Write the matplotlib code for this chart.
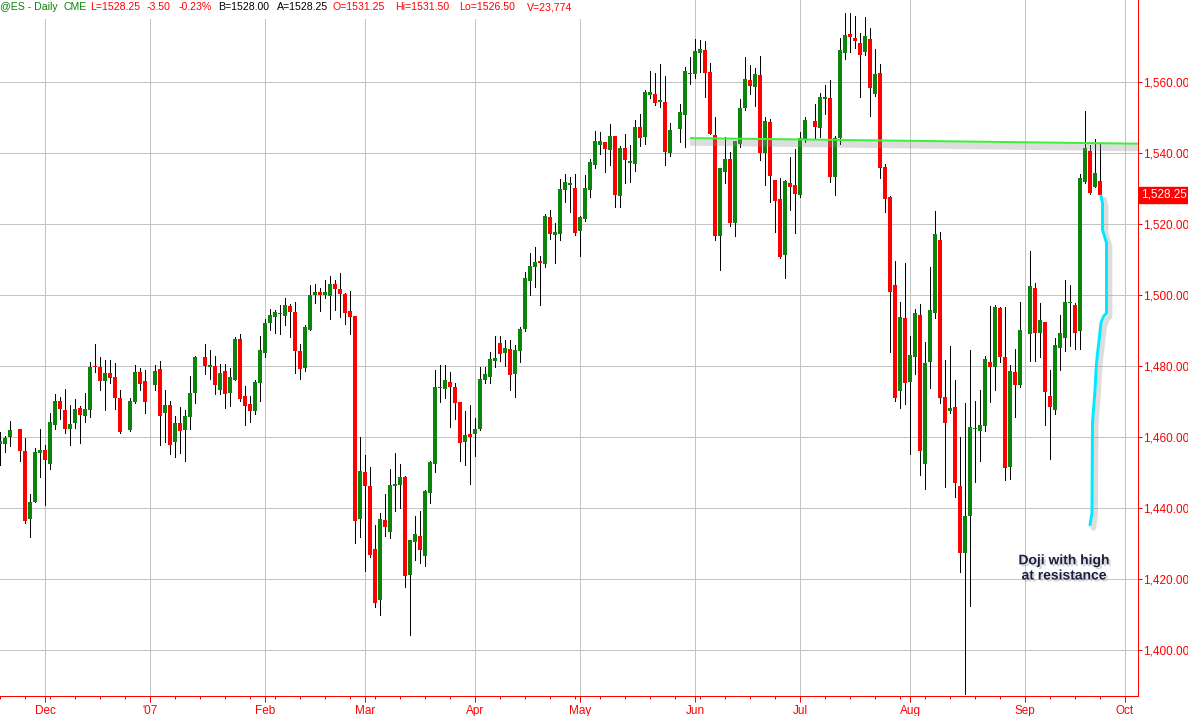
import numpy as np
import pandas as pd
import matplotlib
matplotlib.use("Agg")
import matplotlib.pyplot as plt
import matplotlib.patheffects as pe

plt.rcParams['font.family'] = ['Liberation Sans', 'DejaVu Sans']

####################################
# Data (ES daily)
####################################

first_day = "2006-11-20"
last_day = "2007-09-24"
# weekdays with no bar on the chart (gaps)
no_bar = ["2006-11-23", "2006-12-25", "2007-01-01", "2007-01-15",
          "2007-05-28", "2007-07-04", "2007-09-03"]

opens = [
    # Nov
    1458.1, 1458.1, 1459.9, 1462.1, 1456.1, 1437.0, 1441.6, 1455.4,
    # Dec
    1456.3, 1452.4, 1463.4, 1470.1, 1467.6, 1462.1, 1463.8, 1468.1, 1466.0, 1467.6,
    1480.0, 1479.8, 1475.8, 1478.1, 1476.9, 1471.1, 1462.0, 1469.9, 1478.3, 1475.8,
    # Jan
    1474.5, 1479.2, 1466.6, 1468.9, 1458.5, 1463.9, 1462.0, 1465.7, 1472.5, 1482.5,
    1479.8, 1480.0, 1473.2, 1478.6, 1472.5, 1476.1, 1487.7, 1471.6, 1469.3, 1467.4, 1475.3,
    # Feb
    1483.6, 1492.0, 1493.7, 1494.5, 1494.2, 1496.9, 1495.3, 1484.2, 1479.3, 1490.1,
    1499.9, 1500.8, 1499.9, 1499.8, 1503.1, 1501.6, 1500.4, 1495.5, 1494.1, 1437.0,
    # Mar
    1450.2, 1446.2, 1428.4, 1414.1, 1436.6, 1433.3, 1446.3, 1446.5, 1448.8, 1421.1, 1430.5,
    1432.1, 1426.5, 1444.3, 1452.4, 1473.7, 1473.4, 1475.5, 1474.2, 1469.7, 1458.7, 1460.8,
    # Apr
    1460.7, 1462.2, 1475.9, 1477.0, 1481.5, 1486.4, 1483.6, 1484.9, 1477.6, 1484.3, 1490.3,
    1503.8, 1507.8, 1509.6, 1508.7, 1522.1, 1517.0, 1517.2, 1529.6, 1531.1, 1530.2,
    # May
    1518.1, 1521.4, 1529.6, 1536.6, 1542.3, 1543.2, 1540.7, 1544.8, 1527.9, 1541.3, 1537.3,
    1536.9, 1547.2, 1544.6, 1556.4, 1556.6, 1554.4, 1554.5, 1540.1, 1546.7, 1550.7, 1562.6,
    # Jun
    1562.3, 1568.3, 1569.0, 1562.7, 1545.1, 1516.6, 1534.7, 1538.2, 1520.4, 1542.5, 1552.6,
    1560.5, 1558.5, 1562.0, 1540.1, 1548.8, 1532.4, 1527.0, 1511.3, 1531.6, 1531.0,
    # Jul
    1528.2, 1543.8, 1549.1, 1547.0, 1555.3, 1555.6, 1533.3, 1544.1, 1568.3, 1573.5, 1572.3,
    1570.9, 1568.5, 1572.0, 1556.6, 1562.6, 1536.0, 1527.5, 1502.8, 1473.0, 1493.4,
    # Aug
    1475.6, 1482.4, 1494.4, 1452.4, 1481.2, 1494.8, 1515.5, 1471.2, 1467.4, 1468.4, 1446.2, 1427.4,
    1437.6, 1462.1, 1461.8, 1463.1, 1481.0, 1479.6, 1496.2, 1482.6, 1451.4, 1478.4, 1474.5,
    # Sep
    1488.9, 1501.9, 1489.2, 1492.5, 1471.5, 1467.6, 1485.0, 1488.0, 1497.7, 1497.2,
    1489.9, 1531.9, 1540.6, 1530.3, 1532.0,
]

highs = [
    1461.5, 1460.2, 1464.6, 1462.3, 1459.6, 1443.9, 1456.9, 1462.3,
    1457.7, 1466.8, 1472.0, 1471.3, 1473.5, 1469.0, 1470.7, 1468.7, 1472.3, 1481.2,
    1486.3, 1482.6, 1481.8, 1481.8, 1480.7, 1473.2, 1470.9, 1480.3, 1479.4, 1478.9,
    1480.3, 1481.4, 1473.1, 1470.0, 1465.9, 1468.5, 1467.6, 1477.2, 1482.8, 1486.1,
    1484.5, 1482.8, 1480.5, 1480.5, 1479.4, 1488.1, 1488.9, 1474.4, 1471.4, 1475.9, 1488.3,
    1493.1, 1496.0, 1495.8, 1497.2, 1499.1, 1497.4, 1498.1, 1486.2, 1491.4, 1502.8,
    1503.1, 1501.9, 1504.2, 1505.4, 1504.2, 1506.1, 1500.5, 1501.0, 1494.1, 1460.1,
    1454.9, 1451.5, 1435.2, 1438.7, 1443.9, 1450.9, 1455.4, 1452.4, 1449.0, 1431.0, 1437.8,
    1439.0, 1445.1, 1453.1, 1478.9, 1480.3, 1480.3, 1478.4, 1475.1, 1469.9, 1467.4, 1469.0,
    1465.3, 1479.8, 1479.8, 1483.8, 1488.3, 1488.3, 1487.3, 1487.3, 1485.9, 1491.1, 1506.6,
    1511.9, 1513.4, 1511.0, 1522.8, 1523.9, 1520.4, 1532.6, 1534.1, 1533.3, 1534.1,
    1522.3, 1533.8, 1538.4, 1546.3, 1546.0, 1543.2, 1548.2, 1544.8, 1542.0, 1545.4, 1542.3,
    1549.3, 1551.0, 1557.7, 1563.2, 1562.6, 1565.1, 1561.7, 1548.4, 1553.8, 1564.3, 1567.0,
    1572.0, 1571.8, 1571.6, 1565.3, 1550.2, 1535.9, 1544.4, 1540.4, 1543.5, 1555.1, 1567.0,
    1564.8, 1563.9, 1567.3, 1550.2, 1549.5, 1532.4, 1532.9, 1532.4, 1539.0, 1541.0,
    1546.0, 1550.2, 1553.8, 1557.0, 1559.2, 1560.6, 1544.8, 1572.3, 1579.3, 1579.3, 1578.6,
    1573.9, 1578.2, 1575.1, 1569.2, 1565.0, 1537.0, 1528.0, 1509.7, 1498.1, 1508.9,
    1488.3, 1496.0, 1497.5, 1486.8, 1508.0, 1523.7, 1517.8, 1481.7, 1485.6, 1476.1, 1460.1, 1469.5,
    1484.5, 1470.2, 1473.2, 1482.8, 1496.9, 1497.2, 1496.5, 1496.5, 1480.3, 1484.7, 1498.1,
    1512.5, 1503.5, 1497.6, 1492.5, 1478.9, 1487.8, 1494.4, 1504.2, 1502.8, 1497.6,
    1534.1, 1551.9, 1542.3, 1543.9, 1542.7,
]

lows = [
    1452.1, 1455.8, 1457.5, 1453.3, 1435.8, 1431.7, 1441.6, 1448.8,
    1440.7, 1451.0, 1462.3, 1465.1, 1461.0, 1457.6, 1462.6, 1458.2, 1464.3, 1465.7,
    1478.3, 1473.2, 1467.6, 1475.3, 1468.0, 1461.0, 1461.7, 1469.5, 1473.2, 1466.7,
    1473.2, 1457.6, 1458.7, 1455.2, 1454.3, 1455.4, 1453.3, 1462.2, 1469.5, 1477.7,
    1476.4, 1472.1, 1472.1, 1468.1, 1468.7, 1475.9, 1470.2, 1463.3, 1464.3, 1466.5, 1470.2,
    1482.4, 1490.0, 1489.2, 1489.0, 1491.5, 1488.1, 1478.1, 1476.2, 1478.7, 1490.0,
    1497.7, 1495.6, 1499.2, 1493.2, 1495.8, 1493.9, 1491.8, 1489.0, 1430.2, 1431.7,
    1422.1, 1426.3, 1412.2, 1409.9, 1432.1, 1431.5, 1439.0, 1439.9, 1417.8, 1404.2, 1425.4,
    1424.4, 1423.7, 1441.5, 1450.0, 1469.9, 1470.9, 1462.7, 1465.0, 1453.3, 1452.1, 1446.8,
    1454.6, 1462.0, 1475.3, 1475.3, 1479.8, 1481.5, 1480.0, 1473.2, 1471.2, 1481.2, 1489.9,
    1500.0, 1502.2, 1497.2, 1507.8, 1515.7, 1509.1, 1515.5, 1526.3, 1523.5, 1516.9,
    1511.0, 1520.9, 1527.7, 1535.7, 1539.7, 1534.7, 1536.6, 1524.9, 1524.9, 1531.6, 1531.9,
    1535.0, 1542.0, 1542.5, 1555.4, 1553.5, 1552.9, 1536.6, 1539.2, 1543.2, 1541.6, 1559.4,
    1561.0, 1562.9, 1555.9, 1545.4, 1515.5, 1507.0, 1531.5, 1519.3, 1516.6, 1541.8, 1552.1,
    1556.6, 1553.2, 1538.0, 1531.0, 1526.3, 1517.8, 1510.3, 1504.7, 1523.9, 1517.4,
    1527.7, 1543.2, 1543.8, 1544.4, 1551.0, 1531.9, 1528.2, 1542.5, 1566.4, 1568.5, 1569.5,
    1555.7, 1567.6, 1550.4, 1556.1, 1533.0, 1523.5, 1484.0, 1470.2, 1468.1, 1469.3,
    1455.2, 1477.7, 1449.3, 1445.3, 1473.7, 1493.4, 1469.5, 1446.0, 1466.7, 1443.2, 1421.8, 1387.5,
    1412.4, 1447.4, 1453.3, 1461.8, 1469.9, 1473.1, 1481.0, 1447.9, 1448.1, 1465.5, 1474.2,
    1481.5, 1481.5, 1482.4, 1463.4, 1453.7, 1466.5, 1478.9, 1484.3, 1485.5, 1484.7,
    1484.7, 1531.5, 1528.5, 1530.3, 1527.7,
]

closes = [
    1458.9, 1459.8, 1461.9, 1456.1, 1436.4, 1441.8, 1455.7, 1456.3,
    1453.5, 1464.2, 1470.1, 1467.9, 1462.1, 1463.6, 1468.0, 1466.3, 1467.8, 1479.8,
    1479.6, 1475.8, 1477.9, 1476.5, 1471.0, 1461.5, 1470.1, 1478.3, 1475.0, 1469.7,
    1478.6, 1466.0, 1468.9, 1457.7, 1463.9, 1461.8, 1466.0, 1472.4, 1482.4, 1480.1,
    1480.3, 1474.6, 1478.0, 1472.1, 1476.9, 1487.7, 1470.6, 1468.7, 1467.4, 1475.5, 1484.5,
    1492.0, 1494.4, 1495.1, 1494.8, 1497.1, 1495.3, 1484.3, 1479.2, 1491.1, 1499.9,
    1500.8, 1500.1, 1500.8, 1503.1, 1501.8, 1500.4, 1495.0, 1493.7, 1436.4, 1450.5,
    1446.2, 1426.7, 1413.3, 1436.8, 1434.6, 1446.4, 1446.8, 1448.6, 1420.8, 1431.0, 1432.7,
    1428.0, 1444.8, 1452.8, 1474.2, 1474.0, 1476.1, 1474.2, 1469.5, 1458.4, 1460.5, 1460.1,
    1462.2, 1476.2, 1477.7, 1481.9, 1482.1, 1483.4, 1485.0, 1477.5, 1484.5, 1490.3, 1504.7,
    1508.2, 1509.3, 1509.1, 1522.3, 1517.2, 1517.7, 1529.8, 1531.8, 1531.4, 1517.4,
    1522.1, 1530.2, 1537.5, 1543.4, 1543.4, 1541.0, 1544.8, 1528.2, 1541.5, 1538.0, 1537.8,
    1547.2, 1544.3, 1557.3, 1557.3, 1554.2, 1554.8, 1540.4, 1546.5, 1551.5, 1563.2, 1562.2,
    1568.7, 1569.2, 1562.6, 1545.4, 1516.6, 1535.9, 1538.2, 1520.4, 1543.5, 1552.6, 1560.8,
    1559.0, 1562.3, 1540.1, 1549.1, 1533.5, 1526.6, 1510.6, 1532.2, 1530.3, 1528.5,
    1544.1, 1549.3, 1547.2, 1555.7, 1555.9, 1533.1, 1544.1, 1569.0, 1573.2, 1572.8, 1571.6,
    1567.6, 1573.0, 1558.2, 1562.3, 1535.7, 1527.0, 1500.9, 1470.9, 1493.7, 1475.1,
    1483.1, 1494.8, 1455.9, 1480.7, 1495.8, 1517.2, 1470.9, 1464.0, 1468.1, 1447.1, 1427.4, 1437.7,
    1462.9, 1462.5, 1463.4, 1481.9, 1479.6, 1496.5, 1482.6, 1451.2, 1478.6, 1474.5, 1490.0,
    1502.5, 1489.4, 1492.8, 1472.7, 1468.4, 1485.9, 1489.2, 1498.1, 1498.0, 1489.4,
    1532.9, 1541.3, 1528.6, 1534.3, 1528.25,
]

month_starts = ["2006-12-01", "2007-01-01", "2007-02-01", "2007-03-01", "2007-04-02",
                "2007-05-01", "2007-06-01", "2007-07-02", "2007-08-01", "2007-09-03",
                "2007-10-01"]
month_labels = ["Dec", "'07", "Feb", "Mar", "Apr", "May", "Jun", "Jul", "Aug", "Sep", "Oct"]

# hand-drawn resistance line (date, price) and the cyan swoosh
resist_dates = ["2007-05-31", "2007-10-12"]
resist_prices = [1544.2, 1542.5]
swoosh_x = [220.2, 220.5, 220.5, 221.3, 221.3, 220.7, 220.2, 219.3, 219.0, 218.5, 218.4, 218.4, 218.0]
swoosh_y = [1527.9, 1525.8, 1518.3, 1514.7, 1494.9, 1493.9, 1492.1, 1480.8, 1473.2,
            1463.9, 1440.3, 1438.6, 1435.2]

last_price = 1528.25

####################################
# Config
####################################

GREEN = '#0a840a'
RED = '#ff0000'
GRID = '#c4c4c4'
W, H = 1188, 716
PX = 72 / 100  # one pixel in points

####################################
# Draw
####################################

def slot(d):
    # bars sit on a weekday grid, one slot per weekday
    return np.busday_count(np.datetime64(first_day), np.array(d, dtype='datetime64[D]'))

dates = pd.bdate_range(first_day, last_day, freq='C', holidays=no_bar)
x = slot(dates.values.astype('datetime64[D]'))
o, h, l, c = (np.array(a) for a in (opens, highs, lows, closes))

fig = plt.figure(figsize=(W / 100, H / 100), dpi=100)
ax = fig.add_axes([0, 20 / H, 1138 / W, 696 / H])

# wicks + bodies
ax.vlines(x, l, h, color='black', lw=PX, zorder=3, antialiased=False)
up = c >= o
body_lo = np.minimum(o, c)
body_h = np.maximum(np.abs(c - o), 0.3)
ax.bar(x, body_h, bottom=body_lo, width=0.62, color=np.where(up, GREEN, RED),
       lw=0, zorder=4, antialiased=False)

# grid / axes
ms = slot(month_starts)
ax.set_xticks(ms)
ax.set_xticklabels(month_labels)
ax.set_xticks(slot(pd.date_range(first_day, "2007-10-05", freq='W-MON').values.astype('datetime64[D]')), minor=True)
ax.set_yticks(np.arange(1400, 1561, 20))
ax.yaxis.set_major_formatter(matplotlib.ticker.FuncFormatter(lambda v, p: f"{v:,.2f}"))
ax.yaxis.tick_right()
ax.grid(True, which='major', color=GRID, lw=PX, zorder=0)

for s in ['top', 'left']:
    ax.spines[s].set_visible(False)
for s in ['right', 'bottom']:
    ax.spines[s].set_color(RED)
    ax.spines[s].set_linewidth(PX)

ax.tick_params(axis='y', which='major', colors=RED, length=4 * PX, width=PX, pad=1,
               labelsize=8.5, labelcolor=RED)
ax.tick_params(axis='x', which='major', colors=RED, length=6 * PX, width=PX, pad=2,
               labelsize=8.5, labelcolor=RED)
ax.tick_params(axis='x', which='minor', colors=RED, length=3 * PX, width=PX)

# resistance line with its shadow
ax.plot(slot(resist_dates), resist_prices, color='#3cf03c', lw=2 * PX, zorder=6,
        solid_capstyle='butt',
        path_effects=[pe.SimpleLineShadow(offset=(0, -3), shadow_color='#909090',
                                          alpha=0.3, linewidth=5),
                      pe.Normal()])

# cyan swoosh
ax.plot(swoosh_x, swoosh_y, color='#00eaff', lw=3 * PX, zorder=6, solid_capstyle='round',
        path_effects=[pe.SimpleLineShadow(offset=(2.5, -2.5), shadow_color='#909090',
                                          alpha=0.3, linewidth=3.5),
                      pe.Normal()])

ax.set_xlim(0, 227.6)
ax.set_ylim(1387.0, 1583.1)

# note
ax.text(1064 / 5, 1540 - (568 - 153) / 3.55, "Doji with high\nat resistance",
        ha='center', va='center', fontsize=10, fontweight='bold', color='#1c2040',
        linespacing=1.1, zorder=7,
        path_effects=[pe.withSimplePatchShadow(offset=(1.5, -1.5), shadow_rgbFace='#909090',
                                               alpha=0.35)])

# last price box
ax.text(1.0 + 3 / 1138, last_price, f"{last_price:,.2f}", transform=ax.get_yaxis_transform(),
        ha='left', va='center', fontsize=8.5, color='white', zorder=8, clip_on=False,
        bbox=dict(boxstyle='square,pad=0.18', fc=RED, ec=RED))

# header strip
fig.patches.append(plt.Rectangle((0, 1 - 19 / H), 590 / W, 19 / H, transform=fig.transFigure,
                                 fc='white', ec='none', zorder=10))
header = [(0, "@ES - Daily", GREEN), (63, "CME", GREEN), (90, "L=1528.25", RED),
          (147, "-3.50", RED), (179, "-0.23%", RED), (218, "B=1528.00", 'black'),
          (277, "A=1528.25", 'black'), (333, "O=1531.25", RED), (395, "Hi=1531.50", RED),
          (459, "Lo=1526.50", RED), (527, "V=23,774", RED)]
for px_, s, col in header:
    fig.text(px_ / W, 1 - 7 / H, s, color=col, fontsize=7.6, va='center', ha='left', zorder=11)

fig.savefig("out.png", dpi=100, facecolor='white')
